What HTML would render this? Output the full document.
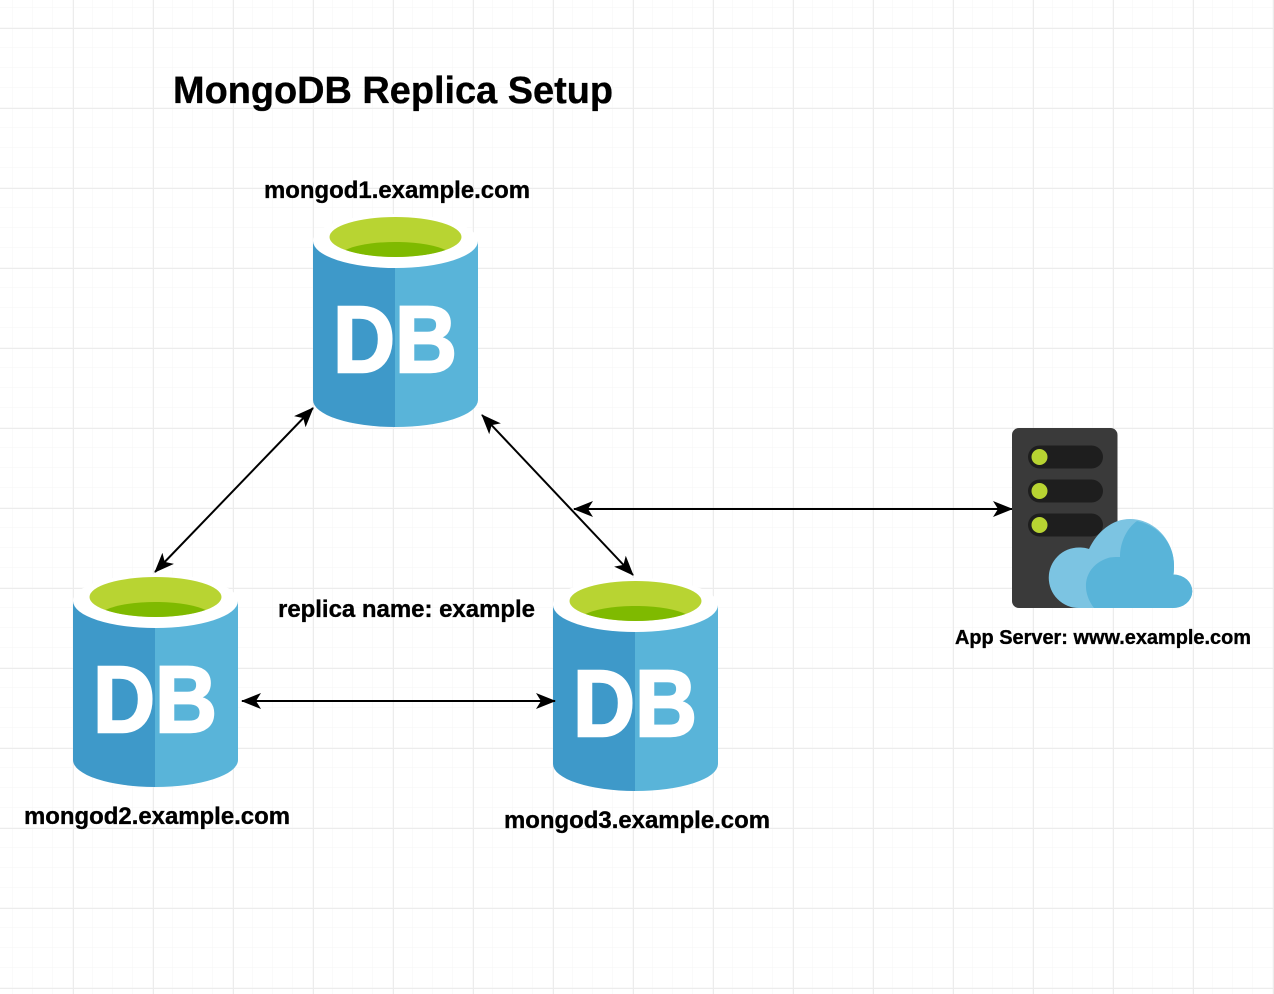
<!DOCTYPE html>
<html><head><meta charset="utf-8"><style>
html,body{margin:0;padding:0;background:#fff}
svg{display:block}
text{font-family:"Liberation Sans",sans-serif;font-weight:bold;fill:#000}
.l{stroke:#000;stroke-width:.35px}
</style></head><body>
<svg xmlns="http://www.w3.org/2000/svg" width="1274" height="994" viewBox="0 0 1274 994">
<defs>
<pattern id="minor" x="13" y="8" width="20" height="20" patternUnits="userSpaceOnUse">
<path d="M20 0V20M0 20H20" stroke="#f8f8f8" stroke-width="1.5" fill="none"/>
</pattern>
<pattern id="major" x="73" y="28" width="80" height="80" patternUnits="userSpaceOnUse">
<path d="M0 0V80M0 0H80" stroke="#ececec" stroke-width="2" fill="none"/>
</pattern>
<marker id="ah" viewBox="0 0 20 16" refX="19" refY="8" markerWidth="20" markerHeight="16" markerUnits="userSpaceOnUse" orient="auto-start-reverse">
<path d="M0 0L20 8L0 16L5 8Z" fill="#000"/>
</marker>
<g id="db">
<path d="M0 27V186A82.500 27 0 0 0 82 213V27Z" fill="#3e99c9"/>
<path d="M82 27V213A82.500 27 0 0 0 165 186V27Z" fill="#59b4d9"/>
<ellipse cx="82.500" cy="27" rx="82.500" ry="27" fill="#fff"/>
<ellipse cx="82.500" cy="23" rx="66" ry="20" fill="#b8d432"/>
<path d="M32.500 36C55 25.300 110 25.300 132.500 36A66 20 0 0 1 32.500 36Z" fill="#7fba00"/>
<text x="20" y="157.800" font-size="95" textLength="124" lengthAdjust="spacingAndGlyphs" style="fill:#fff;stroke:#fff;stroke-width:2.500px">DB</text>
</g>
</defs>
<rect width="1274" height="994" fill="#fff"/>
<rect width="1274" height="994" fill="url(#minor)"/>
<rect width="1274" height="994" fill="url(#major)"/>

<use href="#db" x="313" y="214"/>
<use href="#db" x="73" y="574"/>
<use href="#db" x="553" y="578"/>

<g stroke="#000" stroke-width="2" fill="none">
<line x1="313" y1="408" x2="155" y2="572" marker-start="url(#ah)" marker-end="url(#ah)"/>
<line x1="482" y1="415" x2="633" y2="575" marker-start="url(#ah)" marker-end="url(#ah)"/>
<line x1="574" y1="509" x2="1012" y2="509" marker-start="url(#ah)" marker-end="url(#ah)"/>
<line x1="242" y1="701" x2="555" y2="701" marker-start="url(#ah)" marker-end="url(#ah)"/>
</g>

<rect x="1012" y="428" width="105.500" height="180" rx="7" fill="#3a3a3a"/>
<rect x="1028" y="445.500" width="75" height="23" rx="11.500" fill="#1e1e1e"/>
<rect x="1028" y="479.500" width="75" height="23" rx="11.500" fill="#1e1e1e"/>
<rect x="1028" y="513.500" width="75" height="23" rx="11.500" fill="#1e1e1e"/>
<circle cx="1039.500" cy="457" r="8" fill="#b8d432"/>
<circle cx="1039.500" cy="491" r="8" fill="#b8d432"/>
<circle cx="1039.500" cy="525" r="8" fill="#b8d432"/>

<path d="M1079 608A30 30 0 0 1 1079 547.500C1084 547.500 1086 548 1089 549C1097 532 1112 519 1130 519C1155 519 1174 541 1174 565C1174 568 1174 571 1173.500 574.500A19 16.750 0 0 1 1173 608Z" fill="#7cc4e2"/>
<path d="M1094 608C1080 590 1084 566 1108 558C1111 557 1117 557 1120 557C1120 542 1127 528 1137 521C1158 525 1174 543 1174 565C1174 568 1174 571 1173.500 574.500A19 16.750 0 0 1 1173 608Z" fill="#59b4d9"/>

<text class="l" x="173" y="103" font-size="38" textLength="440" lengthAdjust="spacingAndGlyphs">MongoDB Replica Setup</text>
<text class="l" x="264" y="198" font-size="24" textLength="266" lengthAdjust="spacingAndGlyphs">mongod1.example.com</text>
<text class="l" x="278" y="617" font-size="24" textLength="257" lengthAdjust="spacingAndGlyphs">replica name: example</text>
<text class="l" x="24" y="824" font-size="24" textLength="266" lengthAdjust="spacingAndGlyphs">mongod2.example.com</text>
<text class="l" x="504" y="828" font-size="24" textLength="266" lengthAdjust="spacingAndGlyphs">mongod3.example.com</text>
<text class="l" x="955" y="644" font-size="20.500" textLength="296" lengthAdjust="spacingAndGlyphs">App Server: www.example.com</text>
</svg>
</body></html>
